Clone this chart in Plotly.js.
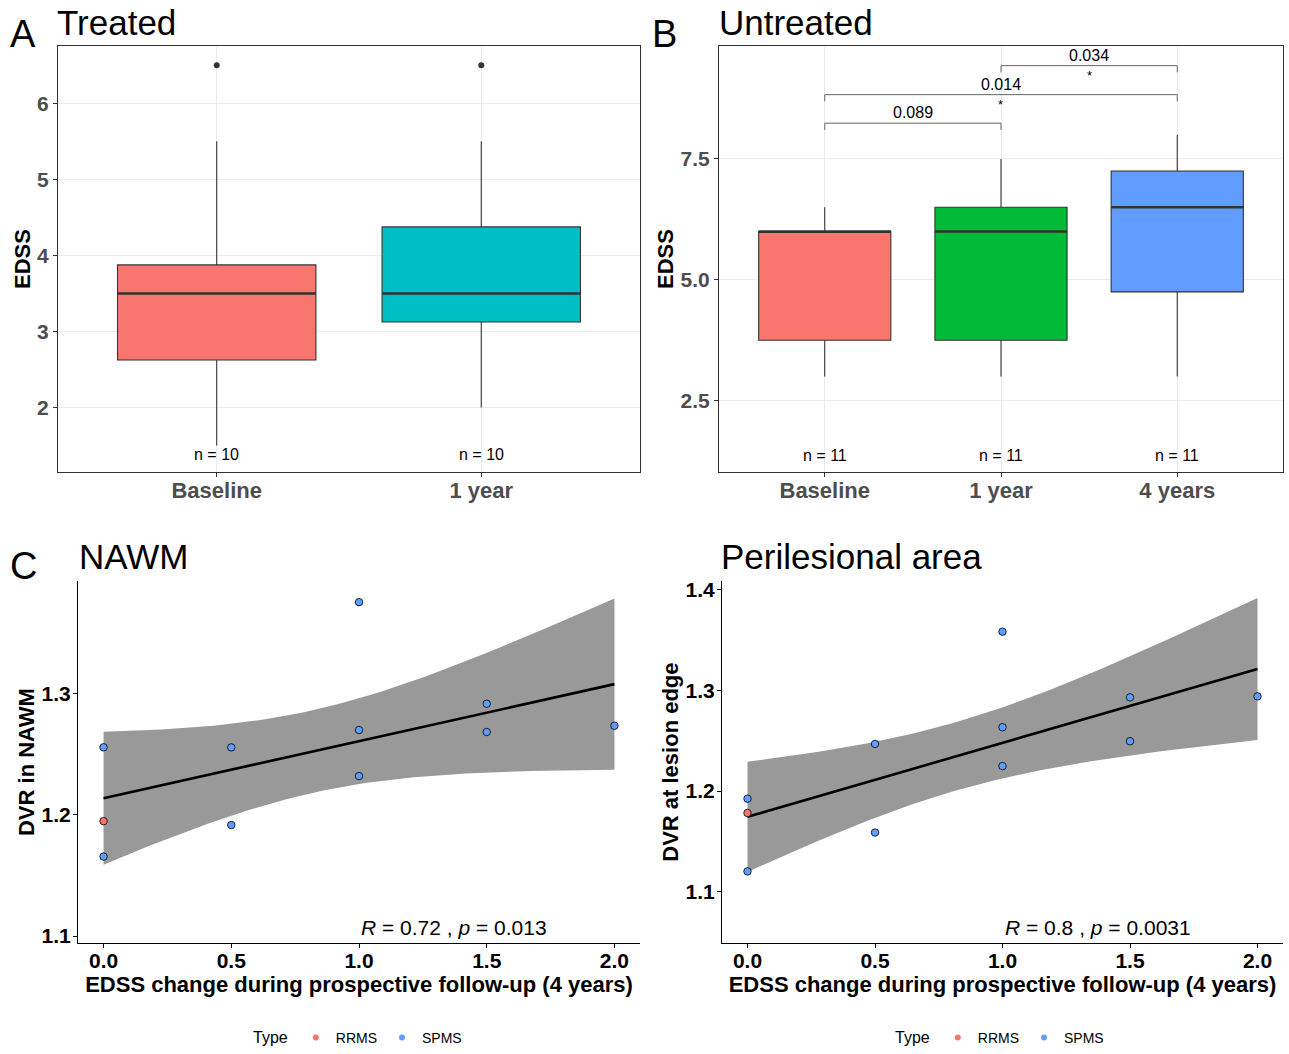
<!DOCTYPE html>
<html>
<head>
<meta charset="utf-8">
<script src="https://cdn.plot.ly/plotly-3.0.1.min.js"></script>
<style>html,body{margin:0;padding:0;background:#fff;overflow:hidden}#chart{width:1289px;height:1054px}</style>
</head>
<body>
<div id="chart"></div>
<script>
// ---------- Panel A: Treated ----------
const treatedCats = ['Baseline', '1 year'];
const treatedQ1 = [2.625, 3.125];
const treatedMedian = [3.5, 3.5];
const treatedQ3 = [3.875, 4.375];
const treatedLowerWhisker = [1.5, 2.0];
const treatedUpperWhisker = [5.5, 5.5];
const treatedOutliers = [6.5, 6.5];
const treatedN = ['n = 10', 'n = 10'];
const treatedColors = ['#F8766D', '#00BFC4'];

// ---------- Panel B: Untreated ----------
const untreatedCats = ['Baseline', '1 year', '4 years'];
const untreatedQ1 = [3.75, 3.75, 4.75];
const untreatedMedian = [6.0, 6.0, 6.5];
const untreatedQ3 = [6.0, 6.5, 7.25];
const untreatedLowerWhisker = [3.0, 3.0, 3.0];
const untreatedUpperWhisker = [6.5, 7.5, 8.0];
const untreatedN = ['n = 11', 'n = 11', 'n = 11'];
const untreatedColors = ['#F8766D', '#00BA38', '#619CFF'];

// pairwise comparisons (brackets)
const compFrom = ['Baseline', 'Baseline', '1 year'];
const compTo = ['1 year', '4 years', '4 years'];
const compLevel = [8.24, 8.83, 9.43];
const compP = ['0.089', '0.014', '0.034'];
const compStar = ['', '*', '*'];

// ---------- Panels C & D ----------
const edssChange = [0, 0, 0, 0.5, 0.5, 1, 1, 1, 1.5, 1.5, 2];
const msType = ['SPMS', 'RRMS', 'SPMS', 'SPMS', 'SPMS', 'SPMS', 'SPMS', 'SPMS', 'SPMS', 'SPMS', 'SPMS'];
const dvrNawm = [1.2557, 1.1948, 1.1656, 1.2556, 1.1916, 1.3754, 1.2699, 1.2320, 1.2916, 1.2683, 1.2735];
const dvrLesionEdge = [1.1924, 1.1782, 1.1201, 1.2468, 1.1587, 1.3584, 1.2634, 1.2248, 1.2931, 1.2495, 1.2941];
const corrR = ['0.72', '0.8'];
const corrP = ['0.013', '0.0031'];
const typeNames = ['RRMS', 'SPMS'];
const typeColors = ['#F8766D', '#619CFF'];

const FONT = 'Liberation Sans, Arial, sans-serif';
const W = 1289, H = 1054;
const px = v => v / W;
const py = v => 1 - v / H;

const traces = [];
const shapes = [];
const annotations = [];

// ---- box panels ----
function addBoxes(cats, q1, med, q3, lo, hi, colors, xa, ya) {
  cats.forEach((c, i) => {
    traces.push({
      type: 'box', x: [c], q1: [q1[i]], median: [med[i]], q3: [q3[i]],
      lowerfence: [lo[i]], upperfence: [hi[i]],
      width: 0.75, whiskerwidth: 0, boxpoints: false,
      fillcolor: colors[i], line: {color: '#333333', width: 1.1},
      xaxis: xa, yaxis: ya, showlegend: false, hoverinfo: 'skip'
    });
    shapes.push({type: 'line', xref: xa, yref: ya, x0: i - 0.375, x1: i + 0.375,
      y0: med[i], y1: med[i], line: {color: '#333333', width: 2.6}});
  });
}
addBoxes(treatedCats, treatedQ1, treatedMedian, treatedQ3, treatedLowerWhisker, treatedUpperWhisker, treatedColors, 'x', 'y');
addBoxes(untreatedCats, untreatedQ1, untreatedMedian, untreatedQ3, untreatedLowerWhisker, untreatedUpperWhisker, untreatedColors, 'x2', 'y2');

traces.push({type: 'scatter', mode: 'markers', x: treatedCats, y: treatedOutliers,
  marker: {color: '#333333', size: 6}, xaxis: 'x', yaxis: 'y', showlegend: false, hoverinfo: 'skip'});

treatedCats.forEach((c, i) => annotations.push({xref: 'x', yref: 'y', x: i, y: 1.38, text: treatedN[i],
  showarrow: false, font: {family: FONT, size: 16, color: '#000'}}));
untreatedCats.forEach((c, i) => annotations.push({xref: 'x2', yref: 'y2', x: i, y: 1.36, text: untreatedN[i],
  showarrow: false, font: {family: FONT, size: 16, color: '#000'}}));

// brackets
const tip = 0.14;
compFrom.forEach((f, k) => {
  const a = untreatedCats.indexOf(f), b = untreatedCats.indexOf(compTo[k]);
  const yv = compLevel[k];
  const ln = {color: '#666666', width: 1};
  shapes.push({type: 'line', xref: 'x2', yref: 'y2', x0: a, x1: b, y0: yv, y1: yv, line: ln});
  shapes.push({type: 'line', xref: 'x2', yref: 'y2', x0: a, x1: a, y0: yv - tip, y1: yv, line: ln});
  shapes.push({type: 'line', xref: 'x2', yref: 'y2', x0: b, x1: b, y0: yv - tip, y1: yv, line: ln});
  annotations.push({xref: 'x2', yref: 'y2', x: (a + b) / 2, y: yv, yanchor: 'bottom', text: compP[k],
    showarrow: false, font: {family: FONT, size: 16, color: '#000'}});
  if (compStar[k]) annotations.push({xref: 'x2', yref: 'y2', x: (a + b) / 2, y: yv, yanchor: 'top', text: compStar[k],
    showarrow: false, font: {family: FONT, size: 13, color: '#000'}});
});

// ---- regression panels ----
const T975_DF = 2.2622; // t quantile (0.975) for n - 2 = 9 degrees of freedom
function fit(xs, ys) {
  const n = xs.length;
  const mx = xs.reduce((s, v) => s + v, 0) / n;
  const my = ys.reduce((s, v) => s + v, 0) / n;
  let sxx = 0, sxy = 0;
  for (let i = 0; i < n; i++) { sxx += (xs[i] - mx) ** 2; sxy += (xs[i] - mx) * (ys[i] - my); }
  const b = sxy / sxx, a = my - b * mx;
  let sse = 0;
  for (let i = 0; i < n; i++) sse += (ys[i] - a - b * xs[i]) ** 2;
  const s = Math.sqrt(sse / (n - 2));
  const xmin = Math.min(...xs), xmax = Math.max(...xs);
  const gx = [], gy = [], up = [], lo = [];
  for (let k = 0; k < 80; k++) {
    const x = xmin + (xmax - xmin) * k / 79;
    const yh = a + b * x;
    const se = s * Math.sqrt(1 / n + (x - mx) ** 2 / sxx);
    gx.push(x); gy.push(yh); up.push(yh + T975_DF * se); lo.push(yh - T975_DF * se);
  }
  return {gx, gy, up, lo};
}

function addScatterPanel(ys, xa, ya, legendId, statIdx) {
  const f = fit(edssChange, ys);
  traces.push({type: 'scatter', mode: 'lines', x: f.gx.concat(f.gx.slice().reverse()),
    y: f.up.concat(f.lo.slice().reverse()), fill: 'toself', fillcolor: '#999999',
    line: {width: 0}, xaxis: xa, yaxis: ya, showlegend: false, hoverinfo: 'skip'});
  traces.push({type: 'scatter', mode: 'lines', x: f.gx, y: f.gy, line: {color: '#000', width: 2.6},
    xaxis: xa, yaxis: ya, showlegend: false, hoverinfo: 'skip'});
  typeNames.forEach((t, ti) => {
    const xs = [], yv = [];
    edssChange.forEach((x, i) => { if (msType[i] === t) { xs.push(x); yv.push(ys[i]); } });
    traces.push({type: 'scatter', mode: 'markers', x: xs, y: yv,
      marker: {color: typeColors[ti], size: 7.5, line: {color: '#000', width: 0.8}},
      xaxis: xa, yaxis: ya, showlegend: false, hoverinfo: 'skip'});
    traces.push({type: 'scatter', mode: 'markers', x: [null], y: [null], name: t,
      marker: {color: typeColors[ti], size: 6}, xaxis: xa, yaxis: ya, legend: legendId, showlegend: true});
  });
  annotations.push({xref: xa, yref: ya, x: 1.0, y: ya === 'y3' ? 1.107 : 1.064, xanchor: 'left', yanchor: 'middle',
    text: '<i>R</i> = ' + corrR[statIdx] + ' , <i>p</i> = ' + corrP[statIdx], showarrow: false,
    font: {family: FONT, size: 21, color: '#000'}});
}
addScatterPanel(dvrNawm, 'x3', 'y3', 'legend', 0);
addScatterPanel(dvrLesionEdge, 'x4', 'y4', 'legend2', 1);

// ---- titles ----
function label(text, x, y, size) {
  annotations.push({xref: 'paper', yref: 'paper', x: px(x), y: py(y), xanchor: 'left', yanchor: 'middle',
    text: text, showarrow: false, font: {family: FONT, size: size, color: '#000'}});
}
label('A', 8, 34, 38); label('Treated', 55, 23, 35);
label('B', 650, 34, 38); label('Untreated', 717, 23, 35);
label('C', 8, 568, 38); label('NAWM', 77, 559, 35);
label('Perilesional area', 719, 559, 35);

const boldTick = {family: FONT, size: 21, color: '#4D4D4D', weight: 'bold'};
const boldTickBlack = {family: FONT, size: 21, color: '#000', weight: 'bold'};
const axTitleFont = {family: FONT, size: 22, color: '#000', weight: 'bold'};

function boxX(domain) {
  return {domain, type: 'category', showline: true, mirror: true, linecolor: '#333', linewidth: 1,
    ticks: 'outside', ticklen: 4, tickcolor: '#333', showgrid: true, gridcolor: '#EBEBEB', gridwidth: 1,
    zeroline: false, tickfont: Object.assign({}, boldTick, {size: 22}), ticklabelstandoff: -6, fixedrange: true};
}
function boxY(domain, range, tickvals, ticktext) {
  return {domain, range, tickvals, ticktext, showline: true, mirror: true, linecolor: '#333', linewidth: 1,
    ticks: 'outside', ticklen: 4, tickcolor: '#333', showgrid: true, gridcolor: '#EBEBEB', gridwidth: 1,
    zeroline: false, tickfont: boldTick, title: {text: 'EDSS', font: axTitleFont, standoff: 0}};
}
function scX(domain) {
  return {domain, range: [-0.1, 2.1], tickvals: [0, 0.5, 1, 1.5, 2], ticktext: ['0.0', '0.5', '1.0', '1.5', '2.0'],
    showline: true, linecolor: '#000', linewidth: 1, ticks: 'outside', ticklen: 4, tickcolor: '#000',
    showgrid: false, zeroline: false, tickfont: boldTickBlack, ticklabelstandoff: -6,
    title: {text: 'EDSS change during prospective follow-up (4 years)', font: axTitleFont, standoff: 4}};
}
function scY(domain, range, tickvals, title) {
  return {domain, range, tickvals, ticktext: tickvals.map(v => v.toFixed(1)),
    showline: true, linecolor: '#000', linewidth: 1, ticks: 'outside', ticklen: 4, tickcolor: '#000',
    showgrid: false, zeroline: false, tickfont: boldTickBlack, ticklabelstandoff: -2,
    title: {text: title, font: axTitleFont, standoff: 0}};
}

const xA = boxX([px(58), px(640)]); xA.range = [-0.6, 1.6];
const xB = boxX([px(719), px(1283)]); xB.range = [-0.6, 2.6];

const layout = {
  width: W, height: H, margin: {l: 0, r: 0, t: 0, b: 0},
  paper_bgcolor: '#fff', plot_bgcolor: '#fff', boxmode: 'overlay',
  font: {family: FONT},
  xaxis: Object.assign(xA, {anchor: 'y'}),
  yaxis: Object.assign(boxY([py(474), py(46)], [1.15, 6.755], [2, 3, 4, 5, 6], ['2', '3', '4', '5', '6']), {anchor: 'x'}),
  xaxis2: Object.assign(xB, {anchor: 'y2'}),
  yaxis2: Object.assign(boxY([py(474), py(46)], [1.02, 9.84], [2.5, 5, 7.5], ['2.5', '5.0', '7.5']), {anchor: 'x2'}),
  xaxis3: Object.assign(scX([px(78), px(640)]), {anchor: 'y3'}),
  yaxis3: Object.assign(scY([py(947), py(583)], [1.094, 1.393], [1.1, 1.2, 1.3], 'DVR in NAWM'), {anchor: 'x3'}),
  xaxis4: Object.assign(scX([px(722), px(1283)]), {anchor: 'y4'}),
  yaxis4: Object.assign(scY([py(947), py(583)], [1.0485, 1.409], [1.1, 1.2, 1.3, 1.4], 'DVR at lesion edge'), {anchor: 'x4'}),
  legend: {orientation: 'h', x: px(359), y: py(1042), xanchor: 'center', yanchor: 'middle',
    title: {text: 'Type', side: 'left', font: {family: FONT, size: 16, color: '#000'}},
    font: {family: FONT, size: 14, color: '#000'}, bgcolor: 'rgba(0,0,0,0)'},
  legend2: {orientation: 'h', x: px(1001), y: py(1042), xanchor: 'center', yanchor: 'middle',
    title: {text: 'Type', side: 'left', font: {family: FONT, size: 16, color: '#000'}},
    font: {family: FONT, size: 14, color: '#000'}, bgcolor: 'rgba(0,0,0,0)'},
  shapes, annotations
};

Plotly.newPlot('chart', traces, layout, {staticPlot: true, displayModeBar: false});
</script>
</body>
</html>
